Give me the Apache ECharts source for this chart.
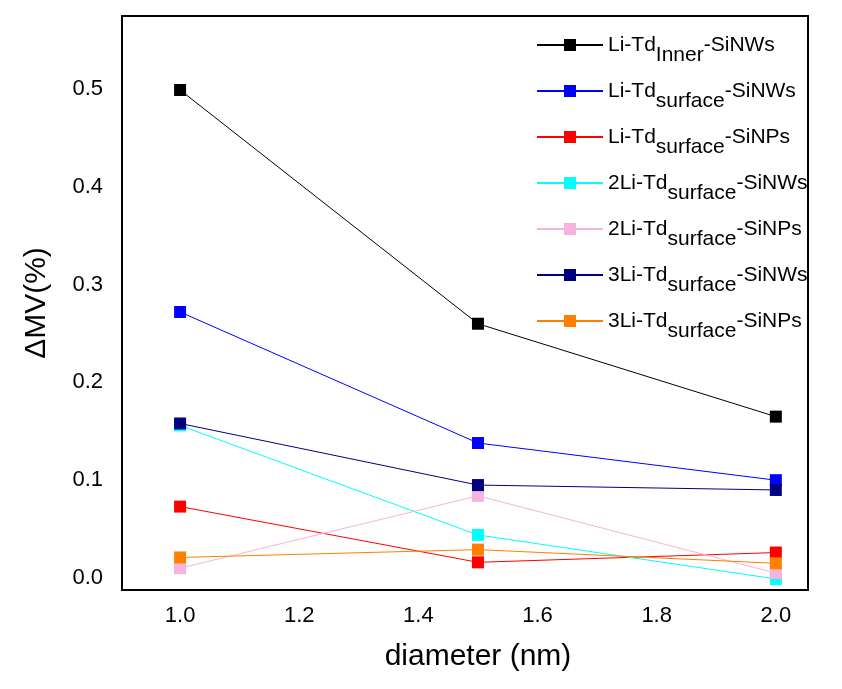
<!DOCTYPE html>
<html>
<head>
<meta charset="utf-8">
<script src="https://cdn.jsdelivr.net/npm/echarts@6/dist/echarts.min.js"></script>
<style>html,body{margin:0;padding:0;background:#fff;}#chart{width:842px;height:689px;}</style>
</head>
<body>
<div id="chart"></div>
<script>
const diameters = [1.0, 1.5, 2.0];
const seriesNames = [
  'Li-Td|Inner|-SiNWs',
  'Li-Td|surface|-SiNWs',
  'Li-Td|surface|-SiNPs',
  '2Li-Td|surface|-SiNWs',
  '2Li-Td|surface|-SiNPs',
  '3Li-Td|surface|-SiNWs',
  '3Li-Td|surface|-SiNPs'
];
const liInnerSiNWs = [0.499, 0.260, 0.165];
const liSurfSiNWs = [0.272, 0.138, 0.100];
const liSurfSiNPs = [0.073, 0.016, 0.026];
const li2SurfSiNWs = [0.156, 0.044, -0.001];
const li2SurfSiNPs = [0.010, 0.084, 0.005];
const li3SurfSiNWs = [0.158, 0.095, 0.090];
const li3SurfSiNPs = [0.021, 0.029, 0.015];
const seriesValues = [liInnerSiNWs, liSurfSiNWs, liSurfSiNPs, li2SurfSiNWs, li2SurfSiNPs, li3SurfSiNWs, li3SurfSiNPs];
const colors = ['#000000', '#0000ff', '#ff0000', '#00ffff', '#f5b3dd', '#000080', '#ff8000'];

const font = 'Liberation Sans, Arial, sans-serif';
const chart = echarts.init(document.getElementById('chart'));
chart.setOption({
  backgroundColor: '#fff',
  animation: false,
  grid: {left: 122, top: 16, right: 34, bottom: 99, show: true, borderColor: '#000', borderWidth: 2, backgroundColor: 'transparent'},
  xAxis: {
    type: 'value', min: 0.9025, max: 2.054, splitNumber: 5,
    name: 'diameter (nm)', nameLocation: 'middle', nameGap: 52,
    nameTextStyle: {fontFamily: font, fontSize: 30, color: '#000', padding: [0, 0, 0, 26]},
    axisLine: {show: true, onZero: false, lineStyle: {color: '#000', width: 2}},
    axisTick: {show: false}, splitLine: {show: false},
    axisLabel: {showMinLabel: false, showMaxLabel: false, fontFamily: font, fontSize: 22, color: '#000', margin: 15,
      formatter: v => v.toFixed(1)}
  },
  yAxis: {
    type: 'value', min: -0.0123, max: 0.5747, splitNumber: 5,
    name: 'ΔMV(%)', nameLocation: 'middle', nameGap: 70,
    nameTextStyle: {fontFamily: font, fontSize: 30, color: '#000'},
    axisLine: {show: true, onZero: false, lineStyle: {color: '#000', width: 2}},
    axisTick: {show: false}, splitLine: {show: false},
    axisLabel: {showMinLabel: false, showMaxLabel: false, fontFamily: font, fontSize: 22, color: '#000', margin: 19,
      formatter: v => v.toFixed(1)}
  },
  legend: {
    left: 536, top: 24, padding: 0, orient: 'vertical', itemWidth: 66, itemHeight: 15, itemGap: 4,
    data: seriesNames,
    formatter: name => {
      const p = name.split('|');
      return '{n|' + p[0] + '}{s|' + p[1] + '}{n|' + p[2] + '}';
    },
    textStyle: {
      fontFamily: font, fontSize: 21, color: '#000',
      rich: {
        n: {fontFamily: font, fontSize: 21, color: '#000', lineHeight: 26},
        s: {fontFamily: font, fontSize: 21, color: '#000', lineHeight: 26, padding: [21, 0, 0, 0]}
      }
    }
  },
  series: seriesNames.map((name, i) => ({
    name: name, type: 'line',
    data: diameters.map((d, j) => [d, seriesValues[i][j]]),
    symbol: 'rect', symbolSize: 12,
    itemStyle: {color: colors[i]},
    lineStyle: {color: colors[i], width: 1},
    z: 2 + i
  }))
});
</script>
</body>
</html>
